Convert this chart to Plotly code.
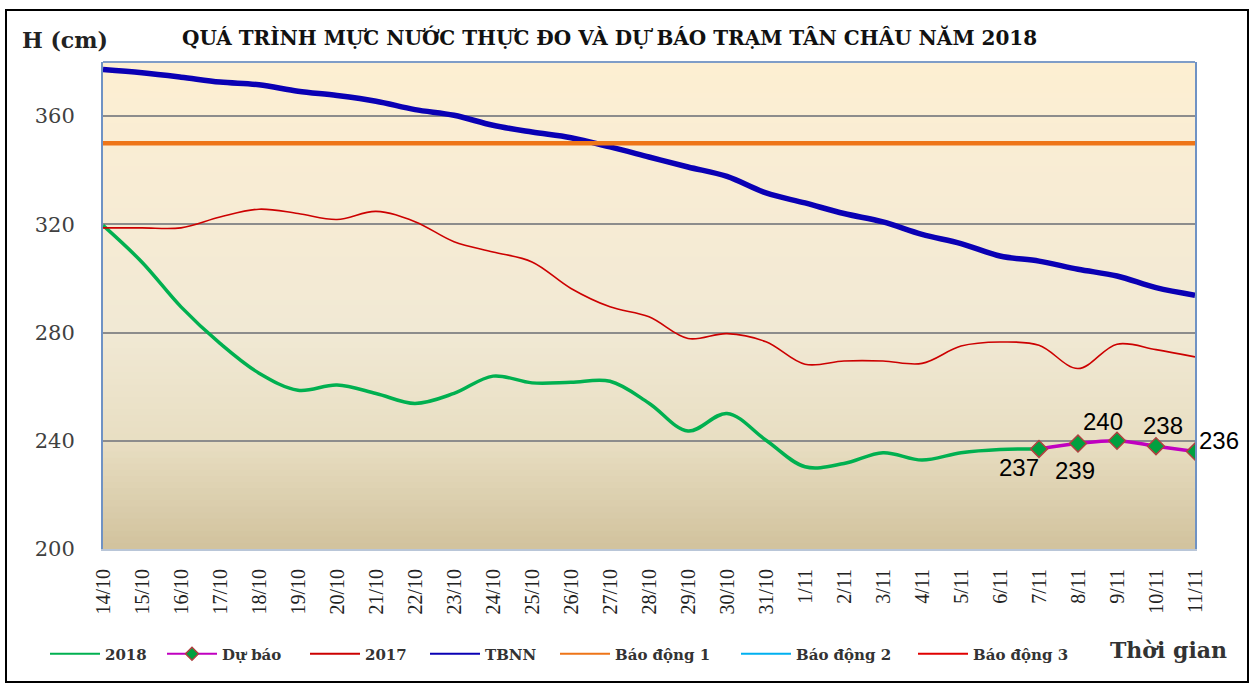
import plotly.graph_objects as go

dates = ["14/10", "15/10", "16/10", "17/10", "18/10", "19/10", "20/10", "21/10", "22/10",
         "23/10", "24/10", "25/10", "26/10", "27/10", "28/10", "29/10", "30/10", "31/10",
         "1/11", "2/11", "3/11", "4/11", "5/11", "6/11", "7/11", "8/11", "9/11", "10/11", "11/11"]

h2018 = [319.6, 306, 289.5, 276, 265, 258.7, 260.6, 257.5, 253.8, 257.5, 263.9, 261.4,
         261.6, 262, 253.9, 243.6, 250.1, 240.2, 230.4, 231.6, 235.6, 232.9, 235.6, 236.8, 237,
         None, None, None, None]

du_bao = [None] * 24 + [237, 239, 240, 238, 236]

h2017 = [318.7, 318.7, 318.7, 322.7, 325.6, 324, 321.8, 324.8, 321, 313.6, 309.8, 306.1,
         296.3, 289.5, 285.8, 277.8, 279.6, 276.6, 268.3, 269.5, 269.5, 268.6, 275, 276.5,
         275.3, 266.7, 275.7, 273.7, 271]

tbnn = [377.2, 376, 374.4, 372.6, 371.6, 369.2, 367.6, 365.5, 362.4, 360.3, 356.6, 354.1,
        352, 348.6, 344.9, 341.2, 337.7, 331.6, 327.9, 324, 320.9, 316.3, 312.9, 308.3,
        306.4, 303.4, 300.9, 296.6, 293.8]

bao_dong_1 = 350
bao_dong_2 = 400
bao_dong_3 = 450

y_ticks = [200, 240, 280, 320, 360]

W, H = 1254, 684
L, R, T, B = 103, 59, 62, 135
PW, PH = W - L - R, H - T - B

def px_x(p):
    return (p - L) / PW

def px_y(p):
    return (H - B - p) / PH

SERIF = "Liberation Serif"
DSERIF = "DejaVu Serif"

series = [
    ("2018", h2018, dict(color="#00B050", width=3.5, shape="spline"), None),
    ("Dự báo", du_bao, dict(color="#C000C0", width=3.5, shape="spline"),
     dict(symbol="diamond", size=13, color="#00A040", line=dict(color="#B04040", width=1.5))),
    ("2017", h2017, dict(color="#CC0000", width=1.6, shape="spline"), None),
    ("TBNN", tbnn, dict(color="#0A00B4", width=5.5, shape="spline"), None),
    ("Báo động 1", [bao_dong_1] * len(dates), dict(color="#EE7518", width=4.5), None),
    ("Báo động 2", [bao_dong_2] * len(dates), dict(color="#00B0F0", width=2), None),
    ("Báo động 3", [bao_dong_3] * len(dates), dict(color="#E00000", width=2), None),
]

# legend entry start positions (px) – layout styling
legend_px = [50, 167, 310, 430, 560, 741, 918]

fig = go.Figure()
for name, vals, line, marker in series:
    fig.add_trace(go.Scatter(x=dates, y=vals, name=name,
                             mode="lines+markers" if marker else "lines",
                             line=line, marker=marker, showlegend=False, hoverinfo="x+y+name"))

legend_layouts = {}
for k, (name, vals, line, marker) in enumerate(series):
    lm = None
    if marker:
        lm = dict(symbol="diamond", size=10, color="#00A040", line=dict(color="#B04040", width=1.5))
    lname = "legend" if k == 0 else "legend%d" % (k + 1)
    fig.add_trace(go.Scatter(x=[None], y=[None], name=name, legend=lname,
                             mode="lines+markers" if marker else "lines",
                             line=dict(color=line["color"], width=2), marker=lm, showlegend=True))
    legend_layouts[lname] = dict(orientation="h", x=px_x(legend_px[k] - 5), y=px_y(654),
                                 xanchor="left", yanchor="middle",
                                 font=dict(family=DSERIF, size=15, color="#333333", weight="bold"),
                                 bgcolor="rgba(0,0,0,0)", itemwidth=50)

# gradient background (bottom -> top)
stops = [(0.0, (209, 194, 157)), (0.22, (232, 222, 194)), (0.45, (241, 233, 212)),
         (0.75, (248, 236, 212)), (1.0, (253, 239, 210))]

def col_at(f):
    for (f0, c0), (f1, c1) in zip(stops[:-1], stops[1:]):
        if f0 <= f <= f1:
            t = (f - f0) / (f1 - f0)
            return tuple(round(a + (b - a) * t) for a, b in zip(c0, c1))
    return stops[-1][1]

shapes = []
N = 80
for i in range(N):
    f0, f1 = i / N, (i + 1) / N
    c = col_at((f0 + f1) / 2)
    shapes.append(dict(type="rect", xref="paper", yref="paper", x0=0, x1=1, y0=f0, y1=f1 + 0.002,
                       fillcolor="rgb(%d,%d,%d)" % c, line=dict(width=0), layer="below"))
shapes.append(dict(type="line", xref="paper", yref="paper", x0=0, x1=1, y0=1, y1=1,
                   line=dict(color="#7F9DC8", width=2)))
shapes.append(dict(type="rect", xref="paper", yref="paper",
                   x0=px_x(6), x1=px_x(1248), y0=px_y(682), y1=px_y(10),
                   line=dict(color="#000000", width=2), fillcolor="rgba(0,0,0,0)"))

# data labels for forecast points (offsets in px are styling)
label_offsets = {24: (-20, -19), 25: (-3, -27), 26: (-14, 19), 27: (7, 21), 28: (24, 11)}
annotations = []
for i, v in enumerate(du_bao):
    if v is None:
        continue
    dx, dy = label_offsets[i]
    annotations.append(dict(x=dates[i], y=v, xref="x", yref="y", text=str(v), showarrow=False,
                            xshift=dx, yshift=dy, xanchor="center", yanchor="middle",
                            font=dict(family="Liberation Sans", size=24, color="#000000")))

annotations += [
    dict(text="QUÁ TRÌNH MỰC NƯỚC THỰC ĐO VÀ DỰ BÁO TRẠM TÂN CHÂU NĂM 2018",
         xref="paper", yref="paper", x=px_x(609), y=px_y(38), showarrow=False,
         font=dict(family=DSERIF, size=20, color="#111111", weight="bold"),
         xanchor="center", yanchor="middle"),
    dict(text="H (cm)", xref="paper", yref="paper", x=px_x(20), y=px_y(40), showarrow=False,
         font=dict(family=DSERIF, size=22, color="#222222", weight="bold"),
         xanchor="left", yanchor="middle"),
    dict(text="Thời gian", xref="paper", yref="paper", x=px_x(1168), y=px_y(650), showarrow=False,
         font=dict(family=DSERIF, size=22, color="#333333", weight="bold"),
         xanchor="center", yanchor="middle"),
]

fig.update_layout(
    width=W, height=H,
    margin=dict(l=L, r=R, t=T, b=B, autoexpand=False),
    paper_bgcolor="#FFFFFF",
    plot_bgcolor="rgba(0,0,0,0)",
    shapes=shapes,
    annotations=annotations,
    showlegend=True,
    xaxis=dict(type="category", range=[0, len(dates) - 1], showgrid=False, ticks="",
               tickangle=-90, tickfont=dict(family=SERIF, size=20, color="#222222"),
               showline=True, linecolor="#B9C6D8", linewidth=2, ticklabelstandoff=10,
               zeroline=False),
    yaxis=dict(range=[200, 380], tickvals=y_ticks, showgrid=True, gridcolor="#8C8C8C",
               gridwidth=1.5, ticks="", tickfont=dict(family=DSERIF, size=21, color="#404040"),
               showline=True, linecolor="#6F92C4", linewidth=2, mirror=True,
               ticklabelstandoff=22, zeroline=False),
    **legend_layouts,
)

fig.write_html("out.html", config={"displayModeBar": False},
               post_script="document.body.style.margin='0px';")
